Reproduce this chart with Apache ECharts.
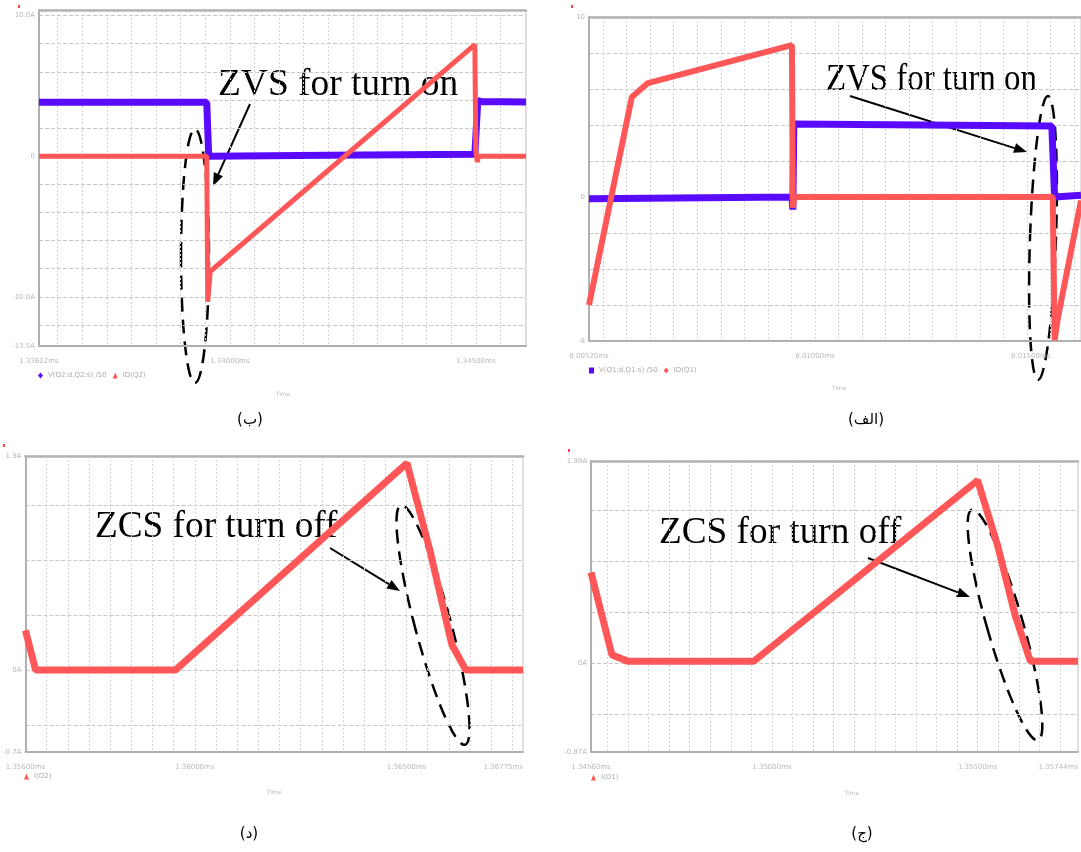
<!DOCTYPE html>
<html><head><meta charset="utf-8">
<script src="https://cdn.jsdelivr.net/npm/echarts@6/dist/echarts.min.js"></script>
<style>html,body{margin:0;padding:0;background:#fff}#c{width:1081px;height:852px}</style>
</head><body><div id="c"></div>
<script>
// ---------- data (time in microseconds) ----------
// Panel (ب)
const B_vds_t = [1336.12, 1339.53, 1339.57, 1342.00, 1344.98, 1345.04, 1345.10, 1346.02];
const B_vds_v = [3.83, 3.83, 0.0, 0.07, 0.14, 3.95, 3.90, 3.85];
const B_id_t  = [1336.12, 1339.53, 1339.55, 1339.60, 1339.95, 1344.98, 1345.00, 1345.03, 1345.06, 1346.02];
const B_id_v  = [0, 0, -10.35, -8.2, -7.15, 7.94, 0.4, -0.4, 0, 0];
// Panel (الف)
const A_vds_t = [8005.20, 8009.51, 8009.53, 8009.55, 8015.03, 8015.09, 8015.65];
const A_vds_v = [-0.1, 0.0, -0.7, 4.06, 3.95, 0.0, 0.1];
const A_id_t  = [8005.20, 8006.11, 8006.45, 8009.51, 8009.53, 8009.56, 8015.05, 8015.09, 8015.16, 8015.65];
const A_id_v  = [-6.0, 5.56, 6.33, 8.44, -0.6, 0.0, 0.0, -7.95, -6.7, -0.2];
// Panel (د)
const D_i_t = [1356.00, 1356.24, 1359.54, 1365.01, 1365.55, 1366.07, 1366.40, 1367.75];
const D_i_v = [0.36, 0.0, 0.0, 1.88, 1.09, 0.23, 0.0, 0.0];
// Panel (ج)
const C_i_t = [1345.60, 1346.11, 1346.49, 1349.56, 1355.00, 1355.48, 1355.91, 1356.28, 1357.44];
const C_i_v = [0.89, 0.08, 0.02, 0.02, 1.79, 1.16, 0.47, 0.02, 0.02];

// axis ranges / ticks
const X_ranges = [[1336.12, 1346.02], [8005.20, 8015.65], [1356.00, 1367.75], [1345.60, 1357.44]];
const X_labels = [[1336.12, 1340, 1345, 1346.02], [8005.20, 8010, 8015], [1356.00, 1360, 1365, 1367.75], [1345.60, 1350, 1355, 1357.44]];
const Y_ranges = [[-13.5, 10.4], [-8, 10], [-0.745, 1.945], [-0.87, 1.98]];
const Y_ticks  = [[-12, -10, -8, -6, -4, -2, 0, 2, 4, 6, 8, 10], [-6, -4, -2, 0, 2, 4, 6, 8], [-0.5, 0, 0.5, 1.0, 1.5], [-0.5, 0, 0.5, 1.0, 1.5]];
const Y_labels = [[10, 0, -10, -13.5], [10, 0, -8], [1.945, 0, -0.745], [1.98, 0, -0.87]];
const Y_text   = [['10.0A', '0', '-10.0A', '-13.5A'], ['10', '0', '-8'], ['1.9A', '0A', '-0.7A'], ['1.98A', '0A', '-0.87A']];
const Names = [['V(Q2:d,Q2:s) /50', 'ID(Q2)'], ['V(Q1:d,Q1:s) /50', 'ID(Q1)'], ['I(D2)'], ['I(D1)']];

const RED = '#ff5757', PURPLE = '#5a0aff';
const zip = (t, v) => t.map((x, i) => [x, v[i]]);
function gridTicks(r) { const a = []; for (let k = Math.ceil(r[0] / 0.5); k * 0.5 <= r[1] + 1e-9; k++) a.push(k * 0.5); return a; }

const grids = [
  {left: 39, top: 10, width: 487, height: 336},
  {left: 589, top: 17, width: 492, height: 324},
  {left: 25, top: 456, width: 498, height: 296},
  {left: 591, top: 461, width: 490, height: 291}
].map(g => Object.assign(g, {show: true, borderColor: '#c4c4c4', borderWidth: 1, containLabel: false}));

const lblStyle = {fontSize: 7, color: '#b8b8b8', fontFamily: 'DejaVu Sans'};
const xAxis = X_ranges.map((r, i) => ({
  type: 'value', gridIndex: i, min: r[0], max: r[1],
  axisLine: {show: true, onZero: false, lineStyle: {color: '#b0b0b0', width: 2}},
  axisTick: {show: false, customValues: gridTicks(r)},
  splitLine: {show: true, lineStyle: {color: '#d4d4d4', type: [2, 2], width: 1}},
  axisLabel: Object.assign({customValues: X_labels[i], margin: 12, alignMaxLabel: 'right',
    formatter: v => (v / 1000).toFixed(5) + 'ms'}, lblStyle)
}));
// thick top frame lines
X_ranges.forEach((r, i) => xAxis.push({
  type: 'value', gridIndex: i, min: r[0], max: r[1], position: 'top',
  axisLine: {show: true, onZero: false, lineStyle: {color: '#b4b4b4', width: 2.5}},
  axisTick: {show: false}, axisLabel: {show: false}, splitLine: {show: false}
}));
const yAxis = Y_ranges.map((r, i) => ({
  type: 'value', gridIndex: i, min: r[0], max: r[1],
  axisLine: {show: true, onZero: false, lineStyle: {color: '#b0b0b0', width: 2}},
  axisTick: {show: false, customValues: Y_ticks[i]},
  splitLine: {show: true, lineStyle: {color: '#c8c8c8', type: [4, 2], width: 1}},
  axisLabel: Object.assign({customValues: Y_labels[i], margin: 4,
    formatter: v => { const k = Y_labels[i].findIndex(x => Math.abs(x - v) < 1e-6); return k >= 0 ? Y_text[i][k] : ''; }}, lblStyle)
}));

function line(name, gi, data, color, width) {
  return {type: 'line', name, xAxisIndex: gi, yAxisIndex: gi, data, showSymbol: false, symbol: 'none',
    lineStyle: {color, width}, itemStyle: {color}, animation: false, silent: true};
}
const series = [
  line(Names[0][0], 0, zip(B_vds_t, B_vds_v), PURPLE, 7),
  line(Names[0][1], 0, zip(B_id_t, B_id_v), RED, 5),
  line(Names[1][0], 1, zip(A_vds_t, A_vds_v), PURPLE, 7),
  line(Names[1][1], 1, zip(A_id_t, A_id_v), RED, 6),
  line(Names[2][0], 2, zip(D_i_t, D_i_v), RED, 7),
  line(Names[3][0], 3, zip(C_i_t, C_i_v), RED, 7)
];

const legTxt = {fontSize: 7, color: '#aaaaaa', fontFamily: 'DejaVu Sans'};
const legend = [
  {left: 38, top: 372, data: [{name: Names[0][0], icon: 'diamond'}, {name: Names[0][1], icon: 'triangle'}]},
  {left: 589, top: 367, data: [{name: Names[1][0], icon: 'rect'}, {name: Names[1][1], icon: 'diamond'}]},
  {left: 24, top: 773, data: [{name: Names[2][0], icon: 'triangle'}]},
  {left: 591, top: 774, data: [{name: Names[3][0], icon: 'triangle'}]}
].map(l => Object.assign(l, {itemWidth: 5, itemHeight: 6, itemGap: 6, textStyle: legTxt, selectedMode: false, padding: 0}));

// ---------- annotations ----------
const graphic = [];
function arrow(x1, y1, x2, y2) {
  const dx = x2 - x1, dy = y2 - y1, L = Math.hypot(dx, dy), ux = dx / L, uy = dy / L;
  const hl = 13, hw = 5, bx = x2 - ux * hl, by = y2 - uy * hl;
  graphic.push({type: 'line', shape: {x1, y1, x2: bx, y2: by}, style: {stroke: '#000', lineWidth: 2}});
  graphic.push({type: 'polygon', shape: {points: [[x2, y2], [bx - uy * hw, by + ux * hw], [bx + uy * hw, by - ux * hw]]}, style: {fill: '#000'}});
}
function ell(cx, cy, rx, ry, rotDeg) {
  graphic.push({type: 'ellipse', x: cx, y: cy, rotation: rotDeg * Math.PI / 180,
    shape: {cx: 0, cy: 0, rx, ry}, style: {fill: 'none', stroke: '#000', lineWidth: 2.5, lineDash: [14, 8]}});
}
function label(text, x, y, sx) {
  graphic.push({type: 'text', x, y, scaleX: sx, style: {text, fontSize: 38, fontFamily: '"Liberation Serif", serif', fill: '#000', verticalAlign: 'middle', align: 'left'}});
}
ell(195, 256, 14, 127, 0);
ell(1043, 238, 13, 142, -2);
ell(433, 625, 18, 124, 15);
ell(1005, 625, 18, 120, 16);
label('ZVS for turn on', 218, 85, 0.985);
label('ZVS for turn on', 826, 80, 0.865);
label('ZCS for turn off', 95, 527, 0.98);
label('ZCS for turn off', 659, 533, 0.98);
arrow(250, 104, 213, 186);
arrow(850, 96, 1027, 152);
arrow(330, 548, 400, 591);
arrow(868, 558, 970, 597);
[['(ب)', 250, 420], ['(الف)', 866, 420], ['(د)', 249, 834], ['(ج)', 862, 834]].forEach(c =>
  graphic.push({type: 'text', x: c[1], y: c[2], style: {text: c[0], fontSize: 15, fontFamily: 'DejaVu Sans', fill: '#000', align: 'center', verticalAlign: 'middle'}}));
[[283, 394], [839, 388], [274, 792], [852, 793]].forEach(p =>
  graphic.push({type: 'text', x: p[0], y: p[1], style: {text: 'Time', fontSize: 6, fontFamily: 'DejaVu Sans', fill: '#bbbbbb', align: 'center', verticalAlign: 'middle'}}));
[[18, 5], [571, 5], [3, 444], [568, 449]].forEach(p =>
  graphic.push({type: 'rect', shape: {x: p[0], y: p[1], width: 2, height: 3}, style: {fill: '#ff4040'}}));

const chart = echarts.init(document.getElementById('c'), null, {renderer: 'canvas'});
chart.setOption({animation: false, backgroundColor: '#fff', grid: grids, xAxis, yAxis, series, legend, graphic});
</script></body></html>
